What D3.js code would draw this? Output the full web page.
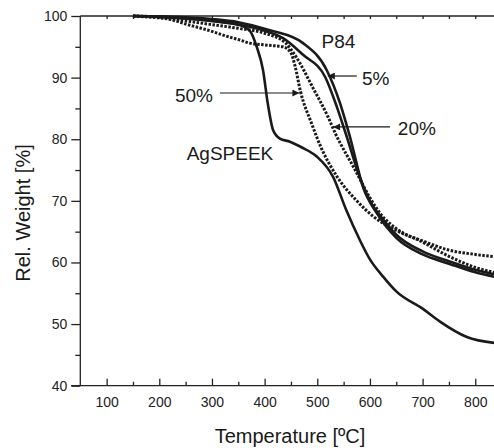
<!DOCTYPE html>
<html>
<head>
<meta charset="utf-8">
<script src="https://cdn.jsdelivr.net/npm/d3@7"></script>
<style>
    body { margin: 0; background: #fff; }
    svg { display: block; font-family: "Liberation Sans", Arial, sans-serif; }
    .axis path, .axis line { stroke: #222; stroke-width: 1.3; }
    .axis text { font-size: 14px; fill: #222; }
</style>
</head>
<body>
<div id="chart"></div>
<script>
// TGA curves, [temperature °C, weight %]
const p84 = [[150,100],[200,99.95],[250,99.8],[300,99.5],[350,99],[410,97.7],[473,95.6],[518,91.2],[543,85.9],[562,80.4],
    [587,72.2],[613,68],[650,64],[700,61.3],[750,59.8],[800,58.4],[840,57.6]];
const blend5 = [[150,100],[200,99.9],[250,99.6],[300,99.2],[350,98.6],[400,97.6],[435,96.4],[473,93.7],[515,90.1],[537,85.3],
    [556,80.4],[580,74],[600,70],[625,67],[650,64.5],[700,61.8],[750,60.2],[800,58.8],[840,58]];
const blend20 = [[150,100],[200,99.7],[250,99.2],[300,98.6],[350,98],[400,97.2],[440,95.6],[461,93.2],[492,88.3],[520,83.7],
    [534,81],[572,75],[600,70.5],[619,68],[650,65.5],[700,63.3],[750,61],[800,59.2],[840,58.3]];
const blend50 = [[150,100],[200,99.8],[258,98.5],[300,97.5],[321,96.9],[353,96.1],[372,95.6],[400,95.3],[435,95],[450,94],
    [458,91.8],[468,87.8],[489,82.6],[508,78.5],[537,74],[575,70],[606,67.5],[650,65.2],[700,63.5],[750,62],[800,61.3],[840,60.9]];
const agspeek = [[150,100],[250,99.6],[300,99.2],[350,98.6],[372,97.6],[385,95],[397,91.2],[406,85.8],[416,81.5],[429,80.1],
    [448,79.6],[470,78.7],[499,77.2],[530,73.9],[555,68.5],[581,63.6],[600,60.5],[625,57.7],[650,55.3],[700,52.5],
    [733,50.4],[784,47.9],[840,46.9]];

const series = [
    {name: "P84", values: p84, dotted: false},
    {name: "5%", values: blend5, dotted: false},
    {name: "20%", values: blend20, dotted: true},
    {name: "50%", values: blend50, dotted: true},
    {name: "AgSPEEK", values: agspeek, dotted: false}
];

// curve labels and arrows, in data units
const labels = [
    {text: "P84", t: 508, w: 94.8, anchor: "start"},
    {text: "5%", t: 585, w: 88.8, anchor: "start"},
    {text: "20%", t: 653, w: 80.7, anchor: "start"},
    {text: "50%", t: 302, w: 86.1, anchor: "end"},
    {text: "AgSPEEK", t: 252, w: 76.6, anchor: "start"}
];
const arrows = [
    {from: [575, 90.26], to: [520, 90.26]},
    {from: [638, 82.0], to: [530, 82.0]},
    {from: [315, 87.5], to: [466, 87.5]}
];

const xTicks = [100, 200, 300, 400, 500, 600, 700, 800];
const yTicks = [40, 50, 60, 70, 80, 90, 100];

const width = 494, height = 448;

const x = d3.scaleLinear().domain([50, 850]).range([80.3, 501.6]);
const y = d3.scaleLinear().domain([40, 100]).range([385.7, 16]);

const svg = d3.select("#chart")
    .append("svg")
    .attr("width", width)
    .attr("height", height);

svg.append("defs").append("marker")
    .attr("id", "head")
    .attr("viewBox", "0 0 10 10")
    .attr("refX", 10)
    .attr("refY", 5)
    .attr("markerWidth", 8)
    .attr("markerHeight", 7)
    .attr("markerUnits", "userSpaceOnUse")
    .attr("orient", "auto")
    .append("path")
    .attr("d", "M0,0L10,5L0,10z")
    .attr("fill", "#1a1a1a");

// bottom axis: ticks point inwards
svg.append("g")
    .attr("class", "axis")
    .attr("transform", "translate(0," + y(40) + ")")
    .call(d3.axisBottom(x).tickValues(d3.range(150, 851, 100)).tickSize(-4).tickFormat(""))
    .call(function (g) { g.select(".domain").remove(); });

svg.append("g")
    .attr("class", "axis")
    .attr("transform", "translate(0," + y(40) + ")")
    .call(d3.axisBottom(x).tickValues(xTicks).tickSize(-7).tickPadding(11).tickFormat(d3.format("d")))
    .call(function (g) { g.select(".domain").attr("d", "M" + (x(50) - 9) + ",0H" + width); });

// top axis
svg.append("g")
    .attr("class", "axis")
    .attr("transform", "translate(0," + y(100) + ")")
    .call(d3.axisTop(x).tickValues(d3.range(100, 851, 50)).tickSize(-3).tickFormat(""))
    .call(function (g) { g.select(".domain").attr("d", "M" + x(50) + ",0H" + width); });

// left axis: ticks point outwards
svg.append("g")
    .attr("class", "axis")
    .attr("transform", "translate(" + x(50) + ",0)")
    .call(d3.axisLeft(y).tickValues(d3.range(45, 100, 10)).tickSize(5).tickFormat(""))
    .call(function (g) { g.select(".domain").remove(); });

svg.append("g")
    .attr("class", "axis")
    .attr("transform", "translate(" + x(50) + ",0)")
    .call(d3.axisLeft(y).tickValues(yTicks).tickSize(9).tickPadding(4).tickFormat(d3.format("d")))
    .call(function (g) { g.select(".domain").attr("d", "M0," + y(40) + "V" + y(100)); });

const line = d3.line()
    .x(function (d) { return x(d[0]); })
    .y(function (d) { return y(d[1]); })
    .curve(d3.curveMonotoneX);

svg.append("g")
    .selectAll("path")
    .data(series)
    .enter()
    .append("path")
    .attr("d", function (d) { return line(d.values); })
    .attr("fill", "none")
    .attr("stroke", "#1a1a1a")
    .attr("stroke-width", function (d) { return d.dotted ? 3 : 2.6; })
    .attr("stroke-dasharray", function (d) { return d.dotted ? "2.5,1.5" : null; })
    .attr("stroke-linejoin", "round");

svg.append("g")
    .selectAll("line")
    .data(arrows)
    .enter()
    .append("line")
    .attr("x1", function (d) { return x(d.from[0]); })
    .attr("y1", function (d) { return y(d.from[1]); })
    .attr("x2", function (d) { return x(d.to[0]); })
    .attr("y2", function (d) { return y(d.to[1]); })
    .attr("stroke", "#1a1a1a")
    .attr("stroke-width", 1.2)
    .attr("marker-end", "url(#head)");

svg.append("g")
    .selectAll("text")
    .data(labels)
    .enter()
    .append("text")
    .attr("x", function (d) { return x(d.t); })
    .attr("y", function (d) { return y(d.w); })
    .attr("text-anchor", function (d) { return d.anchor; })
    .attr("font-size", "19px")
    .attr("fill", "#1a1a1a")
    .text(function (d) { return d.text; });

svg.append("text")
    .attr("x", 290)
    .attr("y", 443)
    .attr("text-anchor", "middle")
    .attr("font-size", "20px")
    .attr("fill", "#1a1a1a")
    .text("Temperature [ºC]");

svg.append("text")
    .attr("transform", "translate(30,213) rotate(-90)")
    .attr("text-anchor", "middle")
    .attr("font-size", "20px")
    .attr("fill", "#1a1a1a")
    .text("Rel. Weight [%]");
</script>
</body>
</html>
